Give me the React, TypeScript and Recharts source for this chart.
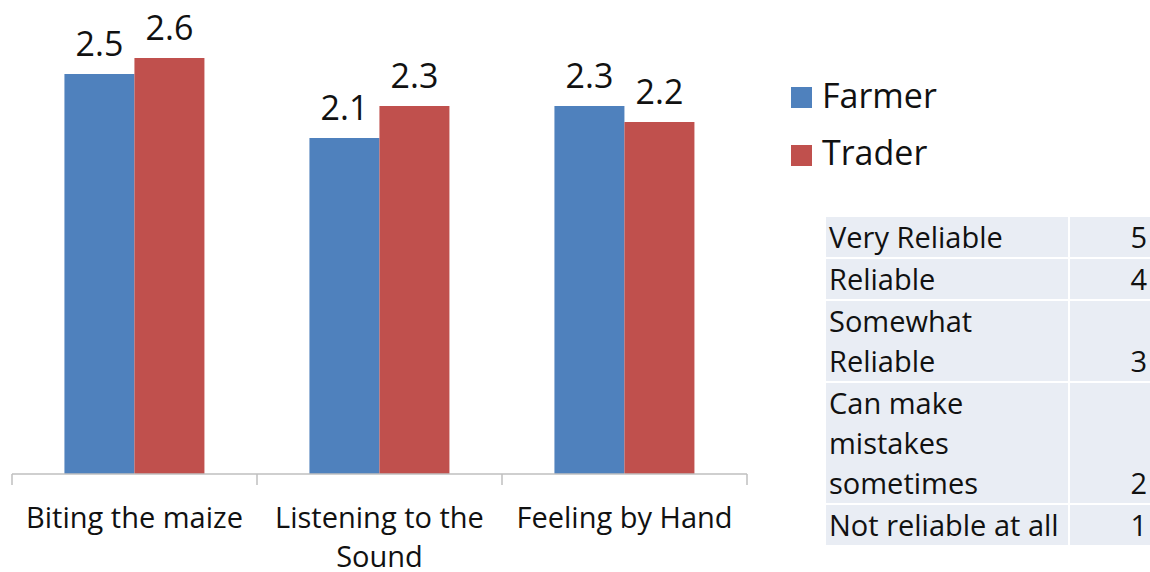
import { BarChart, Bar, XAxis, YAxis, LabelList } from 'recharts'

const categories = ['Biting the maize', 'Listening to the Sound', 'Feeling by Hand']
const farmer = [2.5, 2.1, 2.3]
const trader = [2.6, 2.3, 2.2]
const seriesNames = ['Farmer', 'Trader']
const scaleLabels = ['Very Reliable', 'Reliable', 'Somewhat Reliable', 'Can make mistakes sometimes', 'Not reliable at all']
const scaleValues = [5, 4, 3, 2, 1]
const scaleLines = [1, 1, 2, 3, 1]

const COLORS = ['#4F81BD', '#C0504D']
const FONT = '"Open Sans", sans-serif'
const TICK_FONT_SIZE = 29

const CHART_W = 762
const CHART_H = 572
const MARGIN = { top: 26, right: 15, left: 12, bottom: 8 }
const AXIS_H = 90
const PLOT_BOTTOM = CHART_H - MARGIN.bottom - AXIS_H
const BAND = (CHART_W - MARGIN.left - MARGIN.right) / categories.length

const chartData = categories.map((name, i) => ({
  name,
  Farmer: farmer[i],
  Trader: trader[i],
}))

let measureCtx: CanvasRenderingContext2D | null = null
function textWidth(s: string) {
  if (!measureCtx) measureCtx = document.createElement('canvas').getContext('2d')
  if (!measureCtx) return s.length * TICK_FONT_SIZE * 0.5
  measureCtx.font = `${TICK_FONT_SIZE}px "Open Sans"`
  return measureCtx.measureText(s).width
}

// greedy word wrap to the band width
function wrapLabel(label: string, maxWidth: number) {
  const lines: string[] = []
  let cur = ''
  for (const word of label.split(' ')) {
    const next = cur ? cur + ' ' + word : word
    if (cur && textWidth(next) > maxWidth) {
      lines.push(cur)
      cur = word
    } else {
      cur = next
    }
  }
  if (cur) lines.push(cur)
  return lines
}

// category label with separator ticks at both band edges
function CategoryTick(props: any) {
  const { x, payload, index } = props
  const left = x - BAND / 2
  const right = x + BAND / 2
  const lines = wrapLabel(String(payload.value), BAND - 10)
  return (
    <g>
      <line x1={left} y1={PLOT_BOTTOM} x2={left} y2={PLOT_BOTTOM + 11} stroke="#BFBFBF" strokeWidth={1.5} />
      {index === categories.length - 1 && (
        <line x1={right} y1={PLOT_BOTTOM} x2={right} y2={PLOT_BOTTOM + 11} stroke="#BFBFBF" strokeWidth={1.5} />
      )}
      <text textAnchor="middle" fontSize={TICK_FONT_SIZE} fontFamily={FONT} fill="#111">
        {lines.map((line, i) => (
          <tspan key={i} x={x} y={PLOT_BOTTOM + 54 + i * 39}>
            {line}
          </tspan>
        ))}
      </text>
    </g>
  )
}

function Legend() {
  return (
    <>
      {seriesNames.map((name, i) => (
        <div key={name}>
          <div
            style={{
              position: 'absolute',
              left: 791,
              top: 87 + i * 58,
              width: 21,
              height: 21,
              background: COLORS[i],
            }}
          />
          <div
            style={{
              position: 'absolute',
              left: 822,
              top: 78 + i * 57,
              fontSize: 34,
              lineHeight: '34px',
              fontFamily: FONT,
              color: '#111',
              whiteSpace: 'nowrap',
            }}
          >
            {name}
          </div>
        </div>
      ))}
    </>
  )
}

function ScaleTable() {
  return (
    <div style={{ position: 'absolute', left: 826, top: 217, width: 330, fontFamily: FONT, fontSize: 29, color: '#111' }}>
      {scaleLabels.map((label, i) => (
        <div key={label} style={{ display: 'flex', marginBottom: 2 }}>
          <div
            style={{
              width: 242,
              height: scaleLines[i] * 40,
              lineHeight: '40px',
              background: '#E9EDF4',
              paddingLeft: 3,
              boxSizing: 'border-box',
              whiteSpace: scaleLines[i] > 1 ? 'normal' : 'nowrap',
            }}
          >
            {label}
          </div>
          <div
            style={{
              width: 80,
              marginLeft: 2,
              height: scaleLines[i] * 40,
              lineHeight: '40px',
              background: '#E9EDF4',
              paddingRight: 3,
              boxSizing: 'border-box',
              display: 'flex',
              alignItems: 'flex-end',
              justifyContent: 'flex-end',
            }}
          >
            {scaleValues[i]}
          </div>
        </div>
      ))}
    </div>
  )
}

export default function App() {
  return (
    <div style={{ position: 'absolute', left: 0, top: 0, width: 1150, height: 572, overflow: 'hidden', background: '#fff' }}>
      <BarChart
        width={CHART_W}
        height={CHART_H}
        data={chartData}
        margin={MARGIN}
        barCategoryGap="21.4%"
        barGap={0}
      >
        <XAxis
          dataKey="name"
          height={AXIS_H}
          interval={0}
          tickLine={false}
          axisLine={{ stroke: '#BFBFBF', strokeWidth: 1.5 }}
          tick={<CategoryTick />}
        />
        <YAxis hide domain={[0, 2.8]} />
        {seriesNames.map((name, i) => (
          <Bar key={name} dataKey={name} fill={COLORS[i]} isAnimationActive={false}>
            <LabelList
              dataKey={name}
              position="top"
              offset={18}
              fontSize={34}
              fontFamily={FONT}
              fill="#111"
              formatter={(v: any) => Number(v).toFixed(1)}
            />
          </Bar>
        ))}
      </BarChart>
      <Legend />
      <ScaleTable />
    </div>
  )
}
